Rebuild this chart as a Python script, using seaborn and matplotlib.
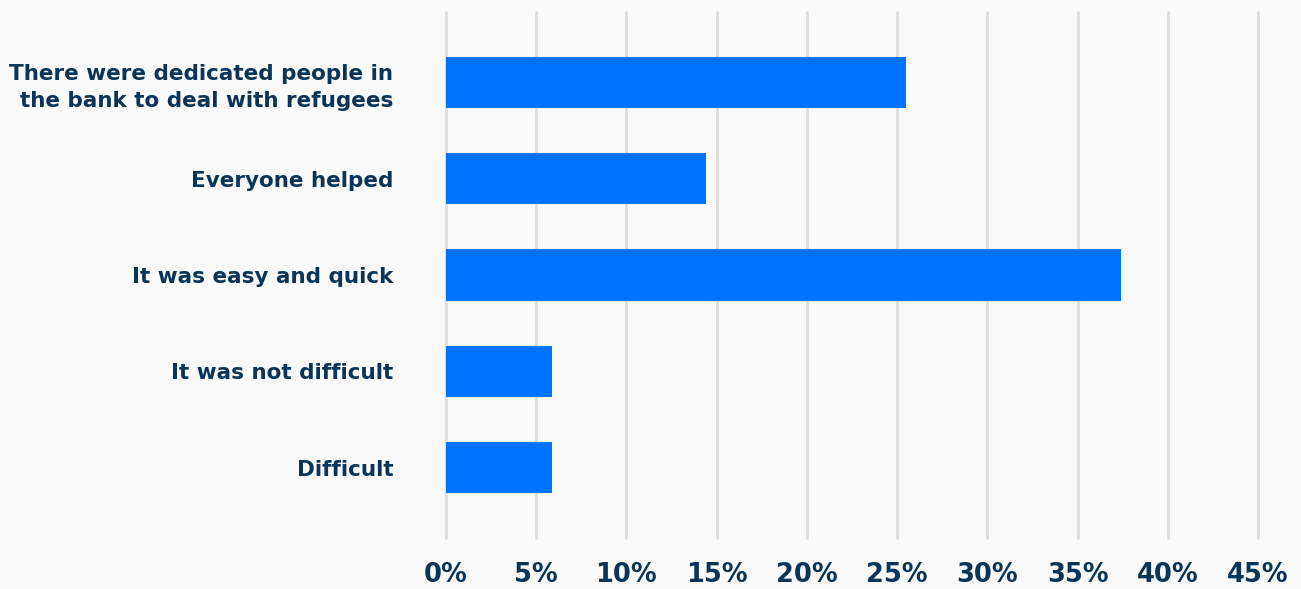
import matplotlib
matplotlib.use("Agg")
import matplotlib.pyplot as plt
import seaborn as sns
import pandas as pd

# Data
categories = [
    "There were dedicated people in\nthe bank to deal with refugees",
    "Everyone helped",
    "It was easy and quick",
    "It was not difficult",
    "Difficult",
]
shares = [25.5, 14.4, 37.4, 5.9, 5.9]
x_ticks = [0, 5, 10, 15, 20, 25, 30, 35, 40, 45]

df = pd.DataFrame({"category": categories, "share": shares})

sns.set_style("white")
plt.rcParams["font.family"] = ["DejaVu Sans"]

navy = "#0b3558"
bar_blue = "#0073ff"
bg = "#fafafa"

fig = plt.figure(figsize=(13.01, 5.89), dpi=100, facecolor=bg)
ax = fig.add_axes([0.3428, 0.0866, 0.967 - 0.3428, 0.9796 - 0.0866])
ax.set_facecolor(bg)

sns.barplot(data=df, x="share", y="category", orient="h", color=bar_blue,
            width=0.53, saturation=1, linewidth=0, ax=ax, zorder=3)

ax.set_xlim(0, 45)
ax.set_ylim(4.73, -0.73)
ax.set_xticks(x_ticks)
ax.set_xticklabels([f"{t}%" for t in x_ticks])
ax.xaxis.grid(True, color="#dddddd", linewidth=2, zorder=0)
for gl in ax.get_xgridlines():
    gl.set_clip_on(False)
ax.yaxis.grid(False)
for s in ax.spines.values():
    s.set_visible(False)

ax.set_xlabel("")
ax.set_ylabel("")
ax.tick_params(axis="x", length=0, pad=17, labelsize=18.5, labelcolor=navy)
ax.tick_params(axis="y", length=0, pad=38, labelsize=15.5, labelcolor=navy)
for lbl in ax.get_xticklabels() + ax.get_yticklabels():
    lbl.set_fontweight("bold")
for lbl in ax.get_yticklabels():
    lbl.set_horizontalalignment("right")
    lbl.set_multialignment("right")
    lbl.set_linespacing(1.4)

fig.savefig("out.png", dpi=100, facecolor=bg)
